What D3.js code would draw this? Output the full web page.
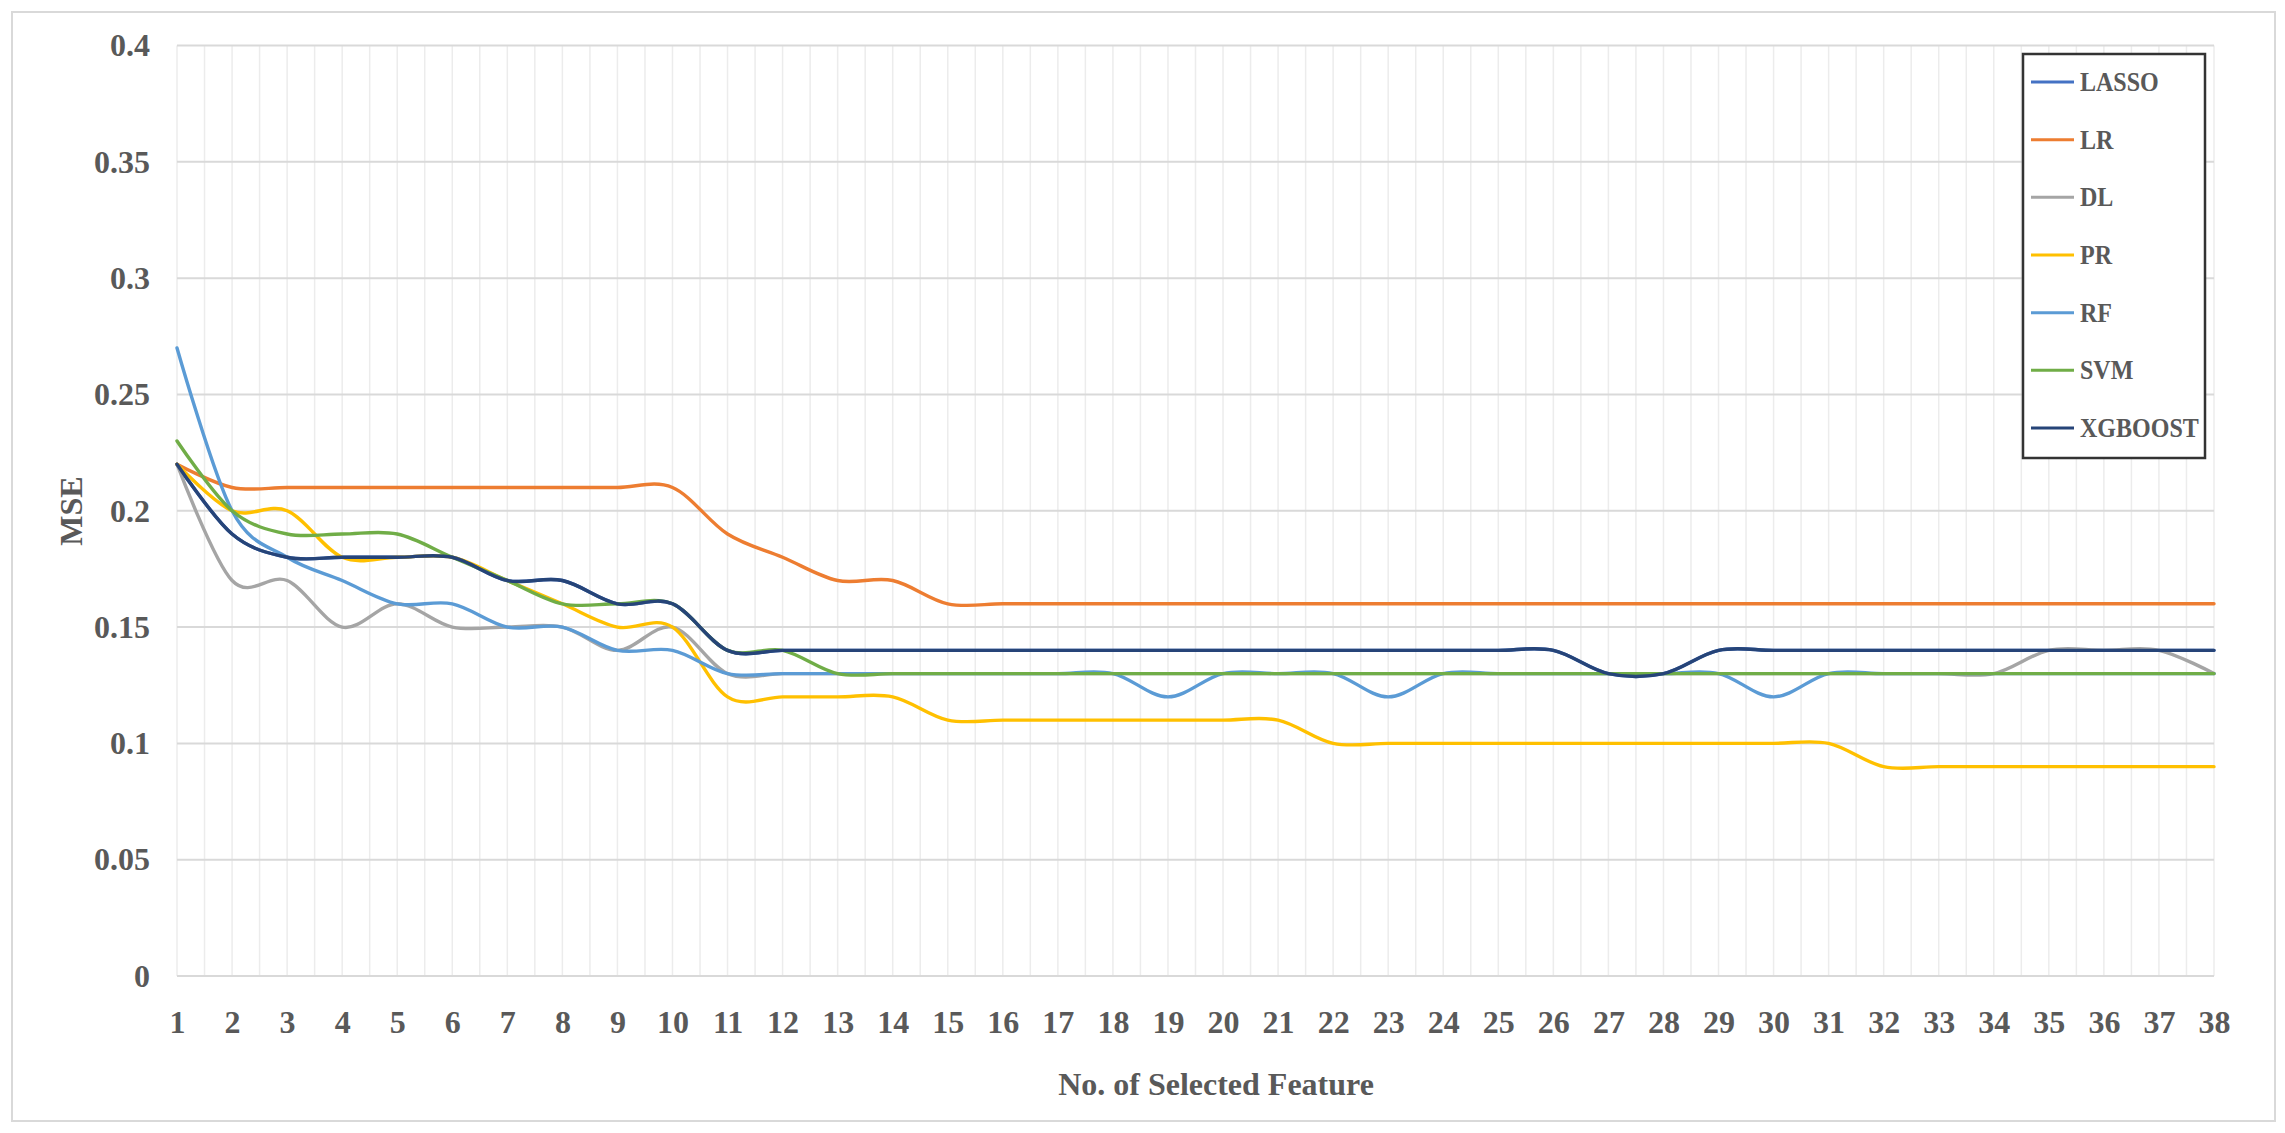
<!DOCTYPE html>
<html>
<head>
<meta charset="utf-8">
<script src="https://cdn.jsdelivr.net/npm/d3@7"></script>
<style>
  html, body { margin: 0; padding: 0; background: #fff; }
  svg { display: block; }
  text { font-family: "Liberation Serif", "Times New Roman", serif; font-weight: bold; fill: #595959; }
</style>
</head>
<body>
<svg id="chart" width="2285" height="1133"></svg>
<script>
// ---- data ----
const features = [1,2,3,4,5,6,7,8,9,10,11,12,13,14,15,16,17,18,19,20,21,22,23,24,25,26,27,28,29,30,31,32,33,34,35,36,37,38];
const seriesNames = ["LASSO","LR","DL","PR","RF","SVM","XGBOOST"];
const seriesColors = ["#4472C4","#ED7D31","#A5A5A5","#FFC000","#5B9BD5","#70AD47","#264478"];
const LASSO = [0.22,0.19,0.18,0.18,0.18,0.18,0.17,0.17,0.16,0.16,0.14,0.14,0.14,0.14,0.14,0.14,0.14,0.14,0.14,0.14,0.14,0.14,0.14,0.14,0.14,0.14,0.13,0.13,0.14,0.14,0.14,0.14,0.14,0.14,0.14,0.14,0.14,0.14];
const LR = [0.22,0.21,0.21,0.21,0.21,0.21,0.21,0.21,0.21,0.21,0.19,0.18,0.17,0.17,0.16,0.16,0.16,0.16,0.16,0.16,0.16,0.16,0.16,0.16,0.16,0.16,0.16,0.16,0.16,0.16,0.16,0.16,0.16,0.16,0.16,0.16,0.16,0.16];
const DL = [0.22,0.17,0.17,0.15,0.16,0.15,0.15,0.15,0.14,0.15,0.13,0.13,0.13,0.13,0.13,0.13,0.13,0.13,0.13,0.13,0.13,0.13,0.13,0.13,0.13,0.13,0.13,0.13,0.13,0.13,0.13,0.13,0.13,0.13,0.14,0.14,0.14,0.13];
const PR = [0.22,0.20,0.20,0.18,0.18,0.18,0.17,0.16,0.15,0.15,0.12,0.12,0.12,0.12,0.11,0.11,0.11,0.11,0.11,0.11,0.11,0.10,0.10,0.10,0.10,0.10,0.10,0.10,0.10,0.10,0.10,0.09,0.09,0.09,0.09,0.09,0.09,0.09];
const RF = [0.27,0.20,0.18,0.17,0.16,0.16,0.15,0.15,0.14,0.14,0.13,0.13,0.13,0.13,0.13,0.13,0.13,0.13,0.12,0.13,0.13,0.13,0.12,0.13,0.13,0.13,0.13,0.13,0.13,0.12,0.13,0.13,0.13,0.13,0.13,0.13,0.13,0.13];
const SVM = [0.23,0.20,0.19,0.19,0.19,0.18,0.17,0.16,0.16,0.16,0.14,0.14,0.13,0.13,0.13,0.13,0.13,0.13,0.13,0.13,0.13,0.13,0.13,0.13,0.13,0.13,0.13,0.13,0.13,0.13,0.13,0.13,0.13,0.13,0.13,0.13,0.13,0.13];
const XGBOOST = [0.22,0.19,0.18,0.18,0.18,0.18,0.17,0.17,0.16,0.16,0.14,0.14,0.14,0.14,0.14,0.14,0.14,0.14,0.14,0.14,0.14,0.14,0.14,0.14,0.14,0.14,0.13,0.13,0.14,0.14,0.14,0.14,0.14,0.14,0.14,0.14,0.14,0.14];
const yTicks = [0,0.05,0.1,0.15,0.2,0.25,0.3,0.35,0.4];
const xTitle = "No. of Selected Feature";
const yTitle = "MSE";

const seriesValues = [LASSO, LR, DL, PR, RF, SVM, XGBOOST];

// ---- layout ----
const svg = d3.select("#chart");
const pLeft = 177, pRight = 2214, pTop = 45.5, pBottom = 976;

const x = d3.scaleLinear().domain([1, 38]).range([pLeft, pRight]);
const y = d3.scaleLinear().domain([0, 0.4]).range([pBottom, pTop]);

// outer border
svg.append("rect").attr("x", 12).attr("y", 12).attr("width", 2263).attr("height", 1109)
  .attr("fill", "#fff").attr("stroke", "#d9d9d9").attr("stroke-width", 2);

// vertical gridlines at half steps
const halfSteps = d3.range(1, 38.001, 0.5);
svg.append("g").selectAll("line").data(halfSteps).join("line")
  .attr("x1", d => x(d)).attr("x2", d => x(d))
  .attr("y1", pTop).attr("y2", pBottom)
  .attr("stroke", "#ececec").attr("stroke-width", 1.5);

// horizontal gridlines
svg.append("g").selectAll("line").data(yTicks).join("line")
  .attr("x1", pLeft).attr("x2", pRight)
  .attr("y1", d => y(d)).attr("y2", d => y(d))
  .attr("stroke", "#d9d9d9").attr("stroke-width", 2);

// y axis labels
const yAxis = d3.axisLeft(y).tickValues(yTicks).tickSize(0).tickPadding(27)
  .tickFormat(d => String(+d.toFixed(2)));
const gy = svg.append("g").attr("transform", `translate(${pLeft},0)`).call(yAxis);
gy.select(".domain").remove();
gy.selectAll("text").style("font-size", "32px").attr("fill", "#595959")
  .style("font-family", '"Liberation Serif", serif').style("font-weight", "bold");

// x axis labels
const xAxis = d3.axisBottom(x).tickValues(features).tickSize(0).tickPadding(34)
  .tickFormat(d3.format("d"));
const gx = svg.append("g").attr("transform", `translate(0,${pBottom})`).call(xAxis);
gx.select(".domain").remove();
gx.selectAll("text").style("font-size", "32px").attr("fill", "#595959")
  .style("font-family", '"Liberation Serif", serif').style("font-weight", "bold");

// series lines
const line = d3.line().x((d, i) => x(features[i])).y(d => y(d)).curve(d3.curveCardinal.tension(0));
svg.append("g").selectAll("path").data(seriesValues).join("path")
  .attr("d", d => line(d))
  .attr("fill", "none")
  .attr("stroke", (d, i) => seriesColors[i])
  .attr("stroke-width", 3.4)
  .attr("stroke-linejoin", "round")
  .attr("stroke-linecap", "round");

// axis titles
svg.append("text").attr("x", 1216).attr("y", 1095).attr("text-anchor", "middle")
  .style("font-size", "32px").text(xTitle);
svg.append("text").attr("transform", "translate(82,511) rotate(-90)").attr("text-anchor", "middle")
  .style("font-size", "32px").text(yTitle);

// legend
const lg = svg.append("g");
lg.append("rect").attr("x", 2023).attr("y", 54).attr("width", 182).attr("height", 404)
  .attr("fill", "#fff").attr("stroke", "#333").attr("stroke-width", 2.5);
const legendY = d3.scalePoint().domain(seriesNames).range([82, 428]);
const items = lg.selectAll("g.item").data(seriesNames).join("g").attr("class", "item")
  .attr("transform", d => `translate(0,${legendY(d)})`);
items.append("line").attr("x1", 2031).attr("x2", 2074).attr("y1", 0).attr("y2", 0)
  .attr("stroke", (d, i) => seriesColors[i]).attr("stroke-width", 3);
items.append("text").attr("transform", "translate(2080,9) scale(0.89,1)")
  .style("font-size", "27px").text(d => d);
</script>
</body>
</html>
